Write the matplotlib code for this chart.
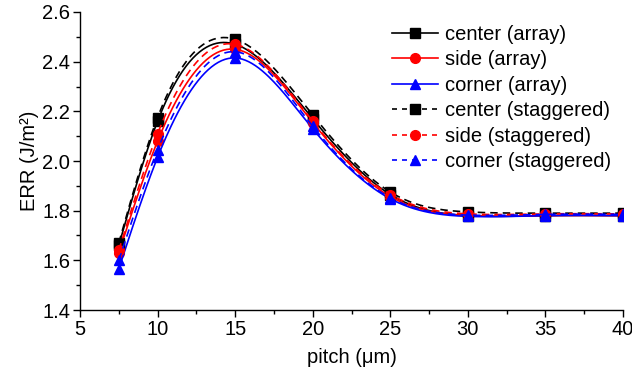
import numpy as np
import matplotlib
matplotlib.use("Agg")
from matplotlib import pyplot as plt
from matplotlib.lines import Line2D
from matplotlib.ticker import MultipleLocator

plt.rcParams["font.family"] = ["Liberation Sans", "DejaVu Sans"]

# Data
pitch = [7.5, 10, 15, 20, 25, 30, 35, 40]
center_array = [1.66, 2.16, 2.47, 2.17, 1.865, 1.78, 1.78, 1.78]
side_array = [1.63, 2.08, 2.45, 2.155, 1.857, 1.78, 1.78, 1.78]
corner_array = [1.565, 2.015, 2.415, 2.13, 1.848, 1.777, 1.78, 1.78]
center_stag = [1.67, 2.175, 2.49, 2.185, 1.875, 1.795, 1.79, 1.79]
side_stag = [1.64, 2.11, 2.47, 2.16, 1.865, 1.787, 1.787, 1.787]
corner_stag = [1.60, 2.045, 2.44, 2.14, 1.852, 1.782, 1.785, 1.785]

labels = ["center (array)", "side (array)", "corner (array)",
          "center (staggered)", "side (staggered)", "corner (staggered)"]


def spline_curve(x, y, n=300):
    # natural cubic spline through the points (Origin "spline" connect style)
    x = np.asarray(x, float)
    y = np.asarray(y, float)
    m = len(x)
    h = np.diff(x)
    A = np.zeros((m, m))
    r = np.zeros(m)
    A[0, 0] = A[-1, -1] = 1
    for i in range(1, m - 1):
        A[i, i - 1] = h[i - 1]
        A[i, i] = 2 * (h[i - 1] + h[i])
        A[i, i + 1] = h[i]
        r[i] = 6 * ((y[i + 1] - y[i]) / h[i] - (y[i] - y[i - 1]) / h[i - 1])
    M = np.linalg.solve(A, r)
    xs = np.linspace(x[0], x[-1], n)
    k = np.clip(np.searchsorted(x, xs) - 1, 0, m - 2)
    t = xs - x[k]
    hk = h[k]
    a = y[k]
    b = (y[k + 1] - y[k]) / hk - hk * (2 * M[k] + M[k + 1]) / 6
    c = M[k] / 2
    d = (M[k + 1] - M[k]) / (6 * hk)
    return xs, a + b * t + c * t ** 2 + d * t ** 3


fig = plt.figure(figsize=(6.32, 3.76), dpi=100)
ax = fig.add_axes([80 / 632, 1 - 310 / 376, 543 / 632, 298 / 376])

series = [center_array, side_array, corner_array,
          center_stag, side_stag, corner_stag]
colors = ["black", "red", "blue"] * 2
markers = ["s", "o", "^"] * 2
styles = ["-"] * 3 + ["--"] * 3

handles = []
for ys, col, mk, ls, lab in zip(series, colors, markers, styles, labels):
    xs, yy = spline_curve(pitch, ys)
    line, = ax.plot(xs, yy, color=col, lw=1.2, ls=ls)
    if ls == "--":
        line.set_dashes((4.5, 3))
    ax.plot(pitch, ys, ls="none", marker=mk, color=col, ms=7)
    h = Line2D([], [], color=col, lw=1.2, ls=ls, marker=mk, ms=7)
    if ls == "--":
        h.set_dashes((3, 3))
    handles.append(h)

ax.set_xlim(5, 40)
ax.set_ylim(1.4, 2.6)
ax.xaxis.set_major_locator(MultipleLocator(5))
ax.xaxis.set_minor_locator(MultipleLocator(2.5))
ax.yaxis.set_major_locator(MultipleLocator(0.2))
ax.yaxis.set_minor_locator(MultipleLocator(0.1))
ax.yaxis.set_major_formatter(matplotlib.ticker.FormatStrFormatter("%.1f"))

for s in ["top", "right"]:
    ax.spines[s].set_visible(False)
for s in ["left", "bottom"]:
    ax.spines[s].set_linewidth(1.0)

ax.tick_params(which="major", direction="out", length=5, width=1.0,
               labelsize=14.5, pad=2)
ax.tick_params(which="minor", direction="out", length=3, width=1.0)

ax.set_xlabel("pitch (\u03bcm)", fontsize=14.5, labelpad=7)
ax.set_ylabel("ERR (J/m\u00b2)", fontsize=14.5, labelpad=2)

ax.legend(handles, labels, loc="upper left",
          bbox_to_anchor=(392 / 632, 1 - 25 / 376),
          bbox_transform=fig.transFigure, frameon=False, fontsize=14.5,
          handlelength=2.3, handletextpad=0.35, labelspacing=0.32,
          borderpad=0, borderaxespad=0)

fig.savefig("out.png", dpi=100)
